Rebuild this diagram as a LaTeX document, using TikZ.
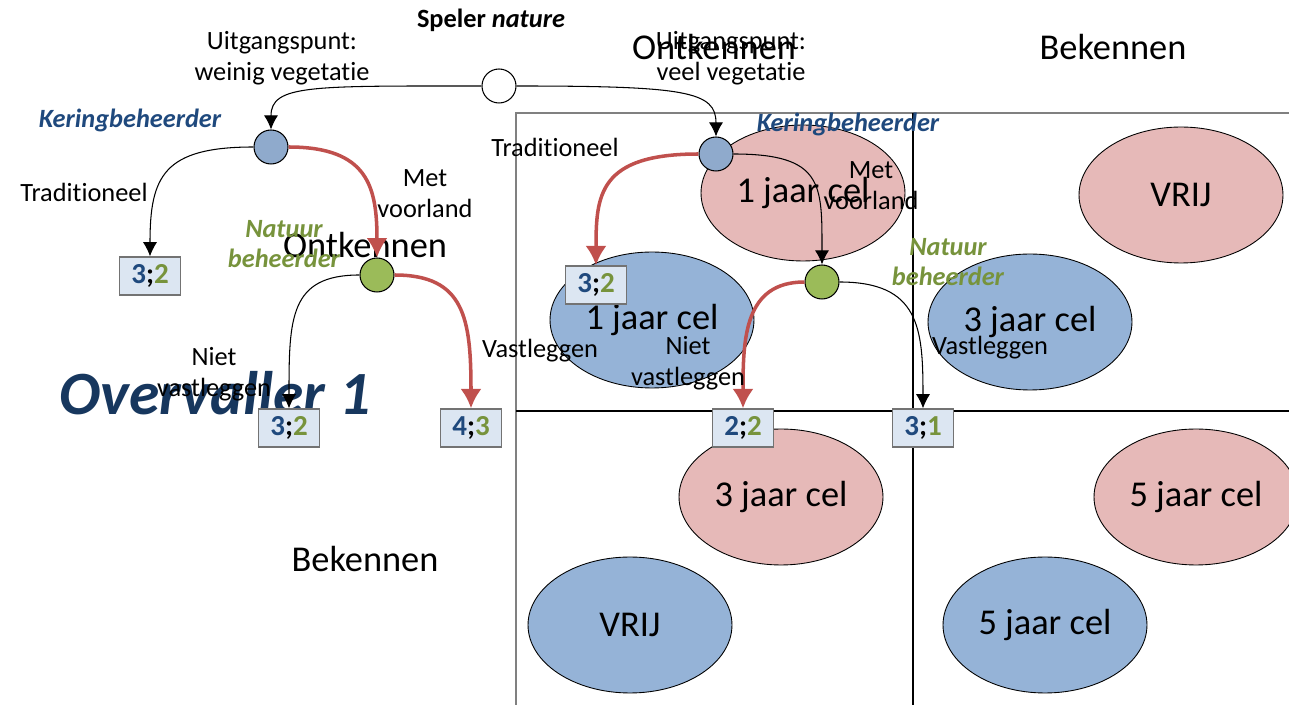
\documentclass[tikz,border=0pt]{standalone}
\usepackage{fontspec}
\setmainfont[Ligatures=NoCommon]{Carlito}
\usetikzlibrary{arrows.meta,shapes.geometric}

\definecolor{celrood}{HTML}{E6B9B8}
\definecolor{celblauw}{HTML}{95B3D7}
\definecolor{knoopblauw}{HTML}{8FAACC}
\definecolor{knoopgroen}{HTML}{9BBB59}
\definecolor{keringblauw}{HTML}{1F497D}
\definecolor{natuurgroen}{HTML}{77933C}
\definecolor{pijlrood}{HTML}{C0504D}
\definecolor{vakblauw}{HTML}{DCE6F2}
\definecolor{titelblauw}{HTML}{17375E}

\newcommand{\uitkomst}[2]{\textcolor{keringblauw}{#1};\textcolor{natuurgroen}{#2}}

\tikzset{
    cel/.style={ellipse, draw=black, line width=0.5pt, minimum width=4.08cm, minimum height=2.72cm, inner sep=0pt, font=\fontsize{20.7}{24}\selectfont},
    keuze/.style={circle, draw=black, line width=0.6pt, minimum size=0.68cm, inner sep=0pt},
    vak/.style={draw=black!55, line width=0.8pt, fill=vakblauw, minimum width=1.22cm, minimum height=0.76cm, inner sep=0pt, font=\bfseries\fontsize{16.5}{18}\selectfont},
    tekst/.style={font=\fontsize{15}{17.5}\selectfont, align=center, inner sep=0pt},
    kop/.style={font=\fontsize{20.7}{24}\selectfont, inner sep=0pt, anchor=base},
    speler/.style={font=\bfseries\itshape\fontsize{15}{17.5}\selectfont, align=center, inner sep=0pt},
    tak/.style={line width=0.6pt, -{Latex[length=8pt,width=8pt]}},
    rodetak/.style={draw=pijlrood, line width=2pt, -{Latex[length=11pt,width=12pt]}}
}

\begin{document}
\begin{tikzpicture}[x=0.02cm, y=-0.02cm]
    \useasboundingbox (0,0) rectangle (1289,705);

    % matrix
    \draw[line width=0.9pt, draw=black!50] (1289,113) -- (516,113) -- (516,705);
    \draw[line width=0.6pt] (913,113) -- (913,705);
    \draw[line width=0.6pt] (516,411) -- (1289,411);

    \foreach \nm/\px/\py/\kl/\inh in {oor/803/193/celrood/1 jaar cel, oob/652/320/celblauw/1 jaar cel,
        obr/1181/195/celrood/VRIJ, obb/1030/322/celblauw/3 jaar cel,
        bor/781/497/celrood/3 jaar cel, bob/630/625/celblauw/VRIJ,
        bbr/1196/497/celrood/5 jaar cel, bbb/1045/625/celblauw/5 jaar cel}
        \node[cel, fill=\kl] (cel-\nm) at (\px,\py) {\inh};

    \node[font=\bfseries\itshape\fontsize{35}{40}\selectfont, text=titelblauw, anchor=base, inner sep=0pt] (titel) at (215,415) {Overvaller 1};

    \node[kop] (ontk1) at (714,60) {Ontkennen};
    \node[kop] (bek1) at (1113,60) {Bekennen};
    \node[kop] (ontk2) at (365,258) {Ontkennen};
    \node[kop] (bek2) at (365,572) {Bekennen};

    % spelers
    \node[keuze, fill=white] (natuur) at (499,86) {};
    \node[keuze, fill=knoopblauw] (kering1) at (271,147) {};
    \node[keuze, fill=knoopgroen] (beheer1) at (377,275) {};
    \node[keuze, fill=knoopblauw] (kering2) at (716,154) {};
    \node[keuze, fill=knoopgroen] (beheer2) at (822,282) {};

    % uitkomsten
    \node[vak] (u1) at (150,276) {\uitkomst{3}{2}};
    \node[vak] (u2) at (289,428) {\uitkomst{3}{2}};
    \node[vak] (u3) at (471,428) {\uitkomst{4}{3}};
    \node[vak] (u4) at (596,285) {\uitkomst{3}{2}};
    \node[vak] (u5) at (743,428) {\uitkomst{2}{2}};
    \node[vak] (u6) at (923,428) {\uitkomst{3}{1}};

    % takken
    \draw[tak] (natuur.west) .. controls +(-170,0) and +(0,-45) .. (kering1.north);
    \draw[tak] (natuur.east) .. controls +(170,0) and +(0,-45) .. (kering2.north);
    \draw[tak] (kering1.west) .. controls +(-90,0) and +(0,-80) .. (u1.north);
    \draw[rodetak] (kering1.east) .. controls +(80,0) and +(0,-70) .. (beheer1.north);
    \draw[tak] (beheer1.west) .. controls +(-70,0) and +(0,-90) .. (u2.north);
    \draw[rodetak] (beheer1.east) .. controls +(70,0) and +(0,-90) .. (u3.north);
    \draw[rodetak] (kering2.west) .. controls +(-100,0) and +(0,-70) .. (u4.north);
    \draw[tak] (kering2.east) .. controls +(90,0) and +(0,-80) .. (beheer2.north);
    \draw[rodetak] (beheer2.west) .. controls +(-60,0) and +(0,-70) .. (u5.north);
    \draw[tak] (beheer2.east) .. controls +(80,0) and +(0,-80) .. (u6.north);

    % teksten
    \node[font=\bfseries\fontsize{15}{17.5}\selectfont, anchor=base, inner sep=0pt] (speler) at (491,28) {Speler \textit{nature}};
    \node[tekst] (start1) at (282,58) {Uitgangspunt:\\weinig vegetatie};
    \node[tekst] (start2) at (731,58) {Uitgangspunt:\\veel vegetatie};
    \node[speler, text=keringblauw, anchor=base] (naam-k1) at (130,128) {Keringbeheerder};
    \node[speler, text=keringblauw, anchor=base] (naam-k2) at (848,132) {Keringbeheerder};
    \node[speler, text=natuurgroen] (naam-n1) at (284,244) {Natuur\\beheerder};
    \node[speler, text=natuurgroen] (naam-n2) at (948,262) {Natuur\\beheerder};
    \node[tekst, anchor=base] (trad1) at (84,202) {Traditioneel};
    \node[tekst, anchor=base] (trad2) at (555,157) {Traditioneel};
    \node[tekst] (voor1) at (425,194) {Met\\voorland};
    \node[tekst] (voor2) at (871,186) {Met\\voorland};
    \node[tekst] (niet1) at (214,374) {Niet\\vastleggen};
    \node[tekst] (niet2) at (688,363) {Niet\\vastleggen};
    \node[tekst, anchor=base] (vast1) at (540,358) {Vastleggen};
    \node[tekst, anchor=base] (vast2) at (990,355) {Vastleggen};
\end{tikzpicture}
\end{document}
